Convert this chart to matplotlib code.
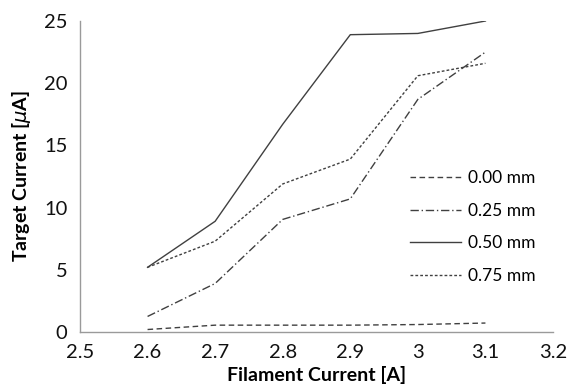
import matplotlib
matplotlib.use("Agg")
import matplotlib.pyplot as plt

plt.rcParams['font.family'] = ['Lato', 'DejaVu Sans']

x = [2.6, 2.7, 2.8, 2.9, 3.0, 3.1]
s000 = [0.2, 0.55, 0.55, 0.55, 0.6, 0.72]
s025 = [1.25, 3.9, 9.05, 10.7, 18.7, 22.5]
s050 = [5.2, 8.9, 16.7, 23.9, 24.0, 25.0]
s075 = [5.2, 7.3, 11.9, 13.9, 20.6, 21.6]
labels = ['0.00 mm', '0.25 mm', '0.50 mm', '0.75 mm']
xticks = [2.5, 2.6, 2.7, 2.8, 2.9, 3.0, 3.1, 3.2]
xticklabels = ['2.5', '2.6', '2.7', '2.8', '2.9', '3', '3.1', '3.2']
yticks = [0, 5, 10, 15, 20, 25]

fig = plt.figure(figsize=(5.67, 3.89), dpi=100)
ax = fig.add_axes([80/567, 1-332/389, (553-80)/567, (332-21)/389])

c = '#404040'
ax.plot(x, s000, color=c, lw=1.0, ls=(0, (4, 2.5)), label=labels[0])
ax.plot(x, s025, color=c, lw=1.0, ls=(0, (6, 2, 1, 2)), label=labels[1])
ax.plot(x, s050, color=c, lw=1.0, ls='-', label=labels[2])
ax.plot(x, s075, color=c, lw=1.0, ls=(0, (2, 1.5)), label=labels[3])

ax.set_xlim(2.5, 3.2)
ax.set_ylim(0, 25)
ax.set_xticks(xticks)
ax.set_xticklabels(xticklabels)
ax.set_yticks(yticks)
ax.tick_params(length=0, labelsize=14.5, pad=9, labelcolor='#111111')
for s in ['top', 'right']:
    ax.spines[s].set_visible(False)
for s in ['left', 'bottom']:
    ax.spines[s].set_color('#9a9a9a')
    ax.spines[s].set_linewidth(1.0)

ax.set_xlabel('Filament Current [A]', fontsize=14, fontweight='bold', labelpad=3)
ax.set_ylabel('Target Current [$\\mu$A]', fontsize=14, fontweight='bold', labelpad=8)

leg = ax.legend(loc='upper left', bbox_to_anchor=(0.665, 0.57), frameon=False,
                fontsize=12.5, handlelength=2.9, handletextpad=0.45, labelspacing=0.95)

fig.savefig('out.png', dpi=100)
